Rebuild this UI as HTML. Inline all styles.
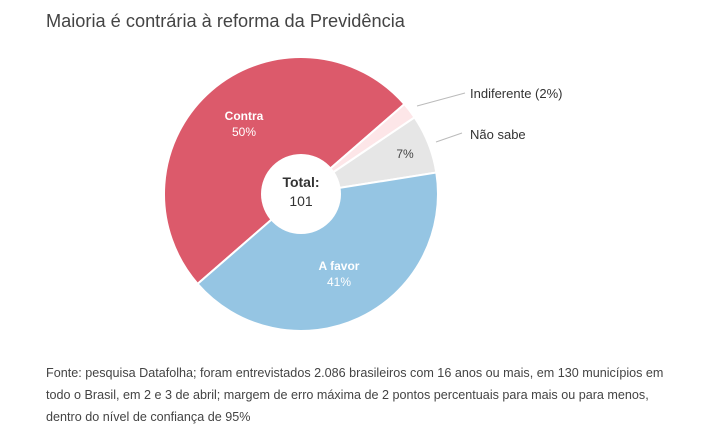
<!DOCTYPE html>
<html><head><meta charset="utf-8"><style>
body{margin:0;background:#fff;width:714px;height:437px;overflow:hidden;font-family:"Liberation Sans","DejaVu Sans",sans-serif;}
</style></head><body>
<svg id="s" width="714" height="437" xmlns="http://www.w3.org/2000/svg" font-family="Liberation Sans, DejaVu Sans, sans-serif">
<text x="46" y="27" font-size="18.2" fill="#444">Maioria é contrária à reforma da Previdência</text>
<g id="pie"></g>
<circle cx="301" cy="194" r="40" fill="#fff"/>
<text x="301" y="187" font-size="14" font-weight="bold" fill="#333" text-anchor="middle">Total:</text>
<text x="301" y="206" font-size="14" fill="#333" text-anchor="middle">101</text>
<text x="244" y="120" font-size="12" font-weight="bold" fill="#fff" text-anchor="middle">Contra</text>
<text x="244" y="136" font-size="12" fill="#fff" text-anchor="middle">50%</text>
<text x="339" y="270" font-size="12" font-weight="bold" fill="#fff" text-anchor="middle">A favor</text>
<text x="339" y="286" font-size="12" fill="#fff" text-anchor="middle">41%</text>
<text x="405" y="158" font-size="12" fill="#444" text-anchor="middle">7%</text>
<line x1="417" y1="106" x2="465" y2="93" stroke="#bbb"/>
<line x1="436" y1="142" x2="462" y2="133" stroke="#bbb"/>
<text x="470" y="98" font-size="13" fill="#333">Indiferente (2%)</text>
<text x="470" y="139" font-size="13" fill="#333">Não sabe</text>
<text font-size="12.6" fill="#444">
<tspan x="46" y="377">Fonte: pesquisa Datafolha; foram entrevistados 2.086 brasileiros com 16 anos ou mais, em 130 municípios em</tspan>
<tspan x="46" y="399">todo o Brasil, em 2 e 3 de abril; margem de erro máxima de 2 pontos percentuais para mais ou para menos,</tspan>
<tspan x="46" y="421">dentro do nível de confiança de 95%</tspan>
</text>
</svg>
<script>
var cx=301,cy=194,r=137;
var sl=[[229,409,"#dc5a6b"],[49,56,"#fde6e8"],[56,81,"#e6e6e6"],[81,229,"#95c5e3"]];
var g=document.getElementById("pie"),h="";
function pt(a){a=a*Math.PI/180;return [cx+r*Math.sin(a),cy-r*Math.cos(a)];}
sl.forEach(function(s){var p=pt(s[0]),q=pt(s[1]),l=(s[1]-s[0])>180?1:0;
h+='<path d="M'+cx+','+cy+'L'+p[0]+','+p[1]+'A'+r+','+r+' 0 '+l+' 1 '+q[0]+','+q[1]+'Z" fill="'+s[2]+'" stroke="#fff" stroke-width="2"/>';});
g.innerHTML=h;
</script>
</body></html>
